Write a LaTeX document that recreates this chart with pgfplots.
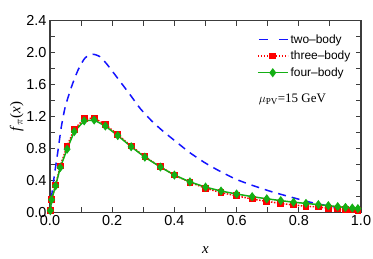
\documentclass[border=0pt]{standalone}
\usepackage{fontspec}
\setmainfont{Liberation Serif}
\setsansfont{Liberation Sans}
\usepackage{pgfplots}
\pgfplotsset{compat=1.18}
\definecolor{myblue}{RGB}{20,20,255}
\definecolor{myred}{RGB}{255,0,0}
\definecolor{mygreen}{RGB}{20,175,20}
\definecolor{axgray}{RGB}{60,60,60}
\pgfplotsset{bluelegend/.style={legend image code/.code={\draw[##1, draw=myblue, line width=1.6bp, dash pattern=on 9bp off 11bp] (1bp,0bp) -- (30bp,0bp);}}}
\begin{document}
\begin{tikzpicture}
\begin{axis}[
  name=ax,
  scale only axis,
  width=311bp, height=191.5bp,
  xmin=0, xmax=1, ymin=0, ymax=2.4,
  xtick={0,0.2,...,1.0}, minor xtick={0.1,0.3,0.5,0.7,0.9},
  ytick={0,0.4,...,2.4}, minor ytick={0.2,0.6,1.0,1.4,1.8,2.2},
  xticklabels={0.0,0.2,0.4,0.6,0.8,1.0},
  yticklabels={0.0,0.4,0.8,1.2,1.6,2.0,2.4},
  tick align=inside,
  major tick length=5bp, minor tick length=5bp,
  tick style={axgray, line width=1bp},
  axis line style={axgray, line width=1.2bp},
  tick label style={font=\fontsize{14.5}{14.5}\selectfont\sffamily},
  /pgf/number format/assume math mode=true,
  xlabel={\textit{x}}, ylabel={\textit{f}$_\pi$(\textit{x})},
  xlabel style={font=\fontsize{15}{15}\selectfont\rmfamily, at={(ticklabel cs:0.5)}, yshift=-14bp},
  ylabel style={font=\fontsize{15}{15}\selectfont\rmfamily, yshift=-4bp},
  legend style={draw=none, fill=none, at={(0.665,0.94)}, anchor=north west,
    font=\fontsize{12}{12}\selectfont\sffamily, row sep=2.5bp, inner sep=0pt},
  legend cell align=left,
  legend image code/.code={\draw[mark repeat=2,mark phase=2,#1] plot coordinates {(0bp,0bp) (15bp,0bp) (30bp,0bp)};},
]
\addplot[myblue, line width=1.5bp, dash pattern=on 8bp off 6bp, smooth, tension=0.4, bluelegend] coordinates {
(0,0) (0.0065,0.24) (0.015,0.49) (0.026,0.78) (0.036,1.06) (0.049,1.32) (0.069,1.57)
(0.09,1.78) (0.112,1.93) (0.136,1.98) (0.16,1.95) (0.184,1.85) (0.225,1.64) (0.258,1.47)
(0.29,1.30) (0.328,1.14) (0.365,1.01) (0.408,0.875) (0.45,0.745) (0.50,0.615) (0.548,0.51)
(0.597,0.415) (0.645,0.344) (0.71,0.26) (0.774,0.19) (0.839,0.123) (0.903,0.073) (0.968,0.03) (1.0,0)
};
\addlegendentry{two--body}
\addplot[color=myred, line width=1.5bp, dash pattern=on 1.5bp off 1.5bp, mark=square*, mark size=2.6bp, mark options={solid, fill=myred, draw=myred}] coordinates {
(0.001,0.02) (0.005,0.16) (0.018,0.34) (0.033,0.58) (0.055,0.83) (0.078,1.04) (0.11,1.17)
(0.142,1.18) (0.178,1.10) (0.218,0.97) (0.261,0.83) (0.305,0.695) (0.355,0.57) (0.40,0.465)
(0.45,0.375) (0.50,0.30) (0.55,0.245) (0.60,0.205) (0.65,0.165) (0.697,0.135) (0.742,0.11)
(0.783,0.09) (0.823,0.075) (0.863,0.065) (0.895,0.05) (0.925,0.04) (0.95,0.033) (0.972,0.027) (0.99,0.02)
};
\addlegendentry{three--body}
\addplot[color=mygreen, line width=1.5bp, mark=diamond*, mark size=3.4bp, mark options={fill=mygreen, draw=mygreen}] coordinates {
(0.001,0.02) (0.005,0.156) (0.018,0.33) (0.033,0.56) (0.055,0.79) (0.078,1.01) (0.11,1.145)
(0.142,1.155) (0.178,1.08) (0.218,0.96) (0.261,0.82) (0.305,0.69) (0.355,0.566) (0.40,0.465)
(0.45,0.38) (0.50,0.315) (0.55,0.265) (0.60,0.228) (0.65,0.195) (0.697,0.168) (0.742,0.145)
(0.783,0.125) (0.823,0.11) (0.863,0.095) (0.895,0.082) (0.925,0.07) (0.95,0.06) (0.972,0.052) (0.99,0.045)
};
\addlegendentry{four--body}
\node[anchor=west, font=\fontsize{13}{13}\selectfont] at (rel axis cs:0.66,0.587) {$\mu_{\mathrm{PV}}$=15 GeV};
\end{axis}
\pgfresetboundingbox
\path[use as bounding box] ([shift={(-50bp,-46.5bp)}]ax.south west) rectangle ([shift={(12bp,20.7bp)}]ax.north east);
\end{tikzpicture}
\end{document}
